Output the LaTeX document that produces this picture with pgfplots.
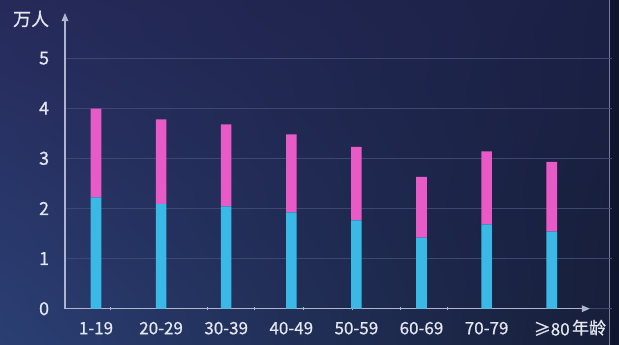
\documentclass[border=0pt]{standalone}
\usepackage{fontspec}
\setmainfont{Noto Sans CJK SC}[FakeBold=0.6]
\usepackage{pgfplots}
\pgfplotsset{compat=1.18}
\usetikzlibrary{arrows.meta,shadings}

\definecolor{cyanbar}{HTML}{3BB9E6}
\definecolor{pinkbar}{HTML}{E85AC6}
\definecolor{axiscol}{HTML}{AEB5CC}
\definecolor{gridcol}{HTML}{3D4770}
\definecolor{txtcol}{HTML}{E4E7F0}
\definecolor{edgecol}{HTML}{10152E}
\definecolor{bgLL}{HTML}{2B3F74}
\definecolor{bgUL}{HTML}{262A5A}
\definecolor{bgUR}{HTML}{1A2044}
\definecolor{bgLR}{HTML}{161E38}

% age group, lower part, upper part (10k persons)
\pgfplotstableread{
x lower upper
0 2.22 1.77
1 2.09 1.69
2 2.04 1.64
3 1.92 1.56
4 1.76 1.47
5 1.42 1.21
6 1.68 1.46
7 1.54 1.39
}\agedata

\begin{document}
\begin{tikzpicture}
% page background
\useasboundingbox (0,0) rectangle (619pt,345pt);
\shade[lower left=bgLL, upper left=bgUL, upper right=bgUR, lower right=bgLR]
  (0,0) rectangle (619pt,345pt);
\fill[edgecol] (609pt,0) rectangle (619pt,345pt);
\draw[gridcol!70, line width=0.8pt] (609pt,0) -- (609pt,345pt);

\begin{axis}[
  at={(65pt,36.3pt)}, anchor=south west,
  scale only axis,
  width=547pt, height=295.7pt,
  xmin=-0.476, xmax=7.926,
  ymin=0, ymax=5.9,
  ybar stacked, bar width=10.6pt,
  axis lines=left,
  axis line style={draw=axiscol, line width=1.2pt},
  x axis line style={draw=none},
  y axis line style={-{Triangle[length=8pt,width=6.5pt]}},
  % small marks along the horizontal axis
  xtick={0.22,1.705,2.44,3.19,3.94,4.67,5.40},
  xticklabels={},
  x tick style={axiscol, line width=0.8pt},
  major tick length=3.5pt,
  % category names
  extra x ticks={0,1,2,3,4,5,6,7},
  extra x tick labels={1-19,20-29,30-39,40-49,50-59,60-69,70-79,≥80},
  extra x tick style={major tick length=0pt},
  ytick={0,1,2,3,4,5},
  y tick style={draw=none},
  ymajorgrids,
  grid style={gridcol, line width=0.9pt},
  /pgf/number format/assume math mode=true,
  yticklabel style={font=\fontsize{18}{18}\selectfont, text=txtcol,
    anchor=east, inner sep=0pt, xshift=-14pt},
  xticklabel style={font=\fontsize{17}{17}\selectfont, text=txtcol,
    anchor=north, inner sep=0pt, yshift=-13pt},
  clip=false,
]
\addplot[fill=cyanbar, draw=none] table[x=x, y=lower] {\agedata};
\addplot[fill=pinkbar, draw=none] table[x=x, y=upper] {\agedata};

% horizontal axis with arrow
\draw[axiscol, line width=1.2pt, -{Triangle[length=8pt,width=6.5pt]}]
  (axis cs:-0.476,0) -- (axis cs:7.587,0);

\node[font=\fontsize{18}{18}\selectfont, text=txtcol]
  at (axis description cs:-0.062,0.98) {万人};
\node[font=\fontsize{17}{17}\selectfont, text=txtcol]
  at (axis description cs:0.958,-0.064) {年龄};
\end{axis}
\end{tikzpicture}
\end{document}
